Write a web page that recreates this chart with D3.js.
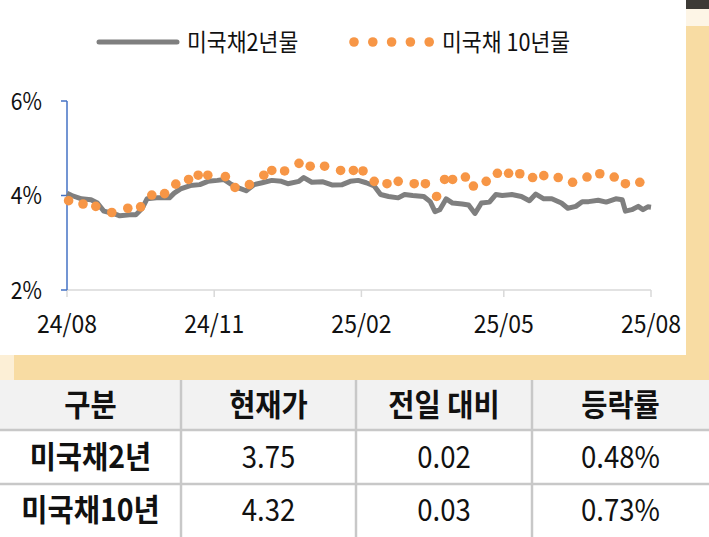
<!DOCTYPE html>
<html>
<head>
<meta charset="utf-8">
<script src="https://cdn.jsdelivr.net/npm/d3@7"></script>
<style>
  body { margin: 0; background: #fff; }
  text { font-family: "Noto Sans CJK KR", "Noto Sans", sans-serif; }
</style>
</head>
<body>
<div id="chart"></div>
<script>
'use strict';

// Data (day offsets from 2024-08-01)
const twoYearDays = [0,3,9,15,19,23,29,33,39,43,47,50,56,64,67,71,77,83,88,94,98,102,108,112,117,122,128,134,138,145,148,153,160,166,172,177,182,187,192,196,201,207,211,216,223,227,230,233,237,241,247,251,255,259,264,268,272,278,284,289,293,298,303,309,313,318,322,326,332,337,343,347,349,353,357,360,363,365];
const twoYearVals = [4.05,4.0,3.93,3.91,3.84,3.67,3.62,3.57,3.59,3.59,3.73,3.93,3.95,3.95,4.05,4.14,4.21,4.23,4.30,4.32,4.34,4.25,4.15,4.10,4.23,4.27,4.32,4.30,4.25,4.30,4.38,4.28,4.29,4.22,4.23,4.30,4.32,4.27,4.20,4.02,3.98,3.95,4.02,4.0,3.98,3.87,3.66,3.70,3.93,3.84,3.82,3.80,3.62,3.84,3.86,4.02,4.0,4.02,3.98,3.89,4.03,3.93,3.93,3.84,3.73,3.77,3.87,3.87,3.90,3.86,3.93,3.91,3.67,3.70,3.77,3.70,3.76,3.75];
const tenYearDays = [1,10,18,28,38,46,53,61,68,76,82,88,99,105,114,123,128,136,145,152,161,171,179,185,192,200,207,217,224,231,236,241,249,254,262,269,276,283,291,298,307,316,325,333,342,349,358];
const tenYearVals = [3.89,3.82,3.77,3.64,3.73,3.76,4.01,4.04,4.24,4.34,4.43,4.43,4.40,4.17,4.23,4.43,4.53,4.52,4.68,4.62,4.62,4.53,4.53,4.52,4.30,4.25,4.30,4.25,4.25,3.98,4.34,4.34,4.39,4.20,4.30,4.47,4.47,4.46,4.38,4.42,4.38,4.28,4.39,4.46,4.39,4.25,4.28];
const yTicks = [2, 4, 6];
const xTickLabels = ['24/08', '24/11', '25/02', '25/05', '25/08'];
const seriesNames = ['미국채2년물', '미국채 10년물'];
const tableHeader = ['구분', '현재가', '전일 대비', '등락률'];
const tableRows = [
  ['미국채2년', '3.75', '0.02', '0.48%'],
  ['미국채10년', '4.32', '0.03', '0.73%']
];

const W = 709, H = 537;
const start = new Date(2024, 7, 1);
const toDate = d => d3.timeDay.offset(start, d);

const svg = d3.select('#chart').append('svg').attr('width', W).attr('height', H);

// Background frame
svg.append('rect').attr('x', 0).attr('y', 0).attr('width', W).attr('height', H).attr('fill', '#f8dca3');
svg.append('rect').attr('x', 0).attr('y', 355).attr('width', 14).attr('height', 30).attr('fill', '#fcefd6');
svg.append('rect').attr('x', 0).attr('y', 0).attr('width', 686).attr('height', 355).attr('fill', '#fff');
svg.append('rect').attr('x', 686).attr('y', 0).attr('width', 23).attr('height', 9).attr('fill', '#3d3a36');
svg.append('rect').attr('x', 686).attr('y', 9).attr('width', 23).attr('height', 17).attr('fill', '#fdf5e6');

// Scales
const x = d3.scaleTime().domain([start, new Date(2025, 7, 1)]).range([67, 651]);
const y = d3.scaleLinear().domain([2, 6]).range([290, 101]);

// Condensed text helper
function label(sel, size, weight, sx) {
  return sel.attr('font-size', size).attr('font-weight', weight || 400).attr('fill', '#111')
    .attr('transform', function() {
      const tx = +d3.select(this).attr('x'), ty = +d3.select(this).attr('y');
      return `translate(${tx},${ty}) scale(${sx},1) translate(${-tx},${-ty})`;
    });
}

// X axis
svg.append('line').attr('x1', 67).attr('x2', 651).attr('y1', 290).attr('y2', 290)
  .attr('stroke', '#d9d9d9').attr('stroke-width', 1.5);
const xTicks = d3.range(5).map(i => d3.timeMonth.offset(start, i * 3));
svg.selectAll('.xtick').data(xTicks).join('line')
  .attr('x1', d => x(d)).attr('x2', d => x(d)).attr('y1', 290).attr('y2', 297)
  .attr('stroke', '#d9d9d9').attr('stroke-width', 1.5);
label(svg.selectAll('.xlab').data(xTicks).join('text')
  .attr('x', d => x(d)).attr('y', 333).attr('text-anchor', 'middle')
  .text((d, i) => xTickLabels[i]), 25, 400, 0.92);

// Y axis
svg.append('line').attr('x1', 67).attr('x2', 67).attr('y1', 101).attr('y2', 290)
  .attr('stroke', '#4472c4').attr('stroke-width', 1.5);
svg.selectAll('.ytick').data(yTicks).join('line')
  .attr('x1', 61).attr('x2', 67).attr('y1', d => y(d)).attr('y2', d => y(d))
  .attr('stroke', '#4472c4').attr('stroke-width', 1.5);
label(svg.selectAll('.ylab').data(yTicks).join('text')
  .attr('x', 42).attr('y', d => y(d) + 9).attr('text-anchor', 'end')
  .text(d => d + '%'), 24, 400, 0.88);

// 2-year line
const line = d3.line().x(d => x(toDate(d[0]))).y(d => y(d[1]));
svg.append('path').datum(d3.zip(twoYearDays, twoYearVals))
  .attr('d', line).attr('fill', 'none')
  .attr('stroke', '#7f7f7f').attr('stroke-width', 5).attr('stroke-linejoin', 'round');

// 10-year dots
svg.selectAll('.dot').data(d3.zip(tenYearDays, tenYearVals)).join('circle')
  .attr('cx', d => x(toDate(d[0]))).attr('cy', d => y(d[1])).attr('r', 4.8)
  .attr('fill', '#f79646');

// Legend
svg.append('line').attr('x1', 99).attr('x2', 177).attr('y1', 42).attr('y2', 42)
  .attr('stroke', '#7f7f7f').attr('stroke-width', 5).attr('stroke-linecap', 'round');
label(svg.append('text').attr('x', 187).attr('y', 51).text(seriesNames[0]), 24, 400, 0.9);
svg.selectAll('.ldot').data(d3.range(5)).join('circle')
  .attr('cx', d => 354 + d * 18.8).attr('cy', 42).attr('r', 4.8).attr('fill', '#f79646');
label(svg.append('text').attr('x', 442).attr('y', 51).text(seriesNames[1]), 24, 400, 0.9);

// Table
const colX = [0, 181, 356, 532, 709];
const rowY = [380, 430, 484, 537];
svg.append('rect').attr('x', 0).attr('y', 380).attr('width', W).attr('height', 50).attr('fill', '#f2f2f2');
svg.append('rect').attr('x', 0).attr('y', 430).attr('width', W).attr('height', 107).attr('fill', '#fff');
[430, 484].forEach(yy => svg.append('line').attr('x1', 0).attr('x2', W).attr('y1', yy).attr('y2', yy)
  .attr('stroke', '#c8c8c8').attr('stroke-width', 2.5));
colX.slice(1, 4).forEach(xx => svg.append('line').attr('x1', xx).attr('x2', xx).attr('y1', 380).attr('y2', 537)
  .attr('stroke', '#c8c8c8').attr('stroke-width', 2.5));
[tableHeader, ...tableRows].forEach((row, r) => {
  row.forEach((cell, c) => {
    const bold = r === 0 || c === 0;
    label(svg.append('text')
      .attr('x', (colX[c] + colX[c + 1]) / 2)
      .attr('y', (rowY[r] + rowY[r + 1]) / 2 + 11)
      .attr('text-anchor', 'middle')
      .text(cell), bold ? 31 : 30, bold ? 700 : 400, 0.92);
  });
});
</script>
</body>
</html>
